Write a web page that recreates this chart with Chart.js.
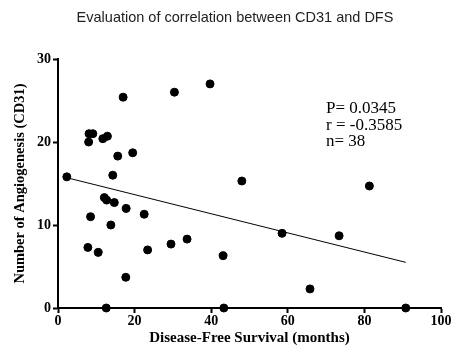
<!DOCTYPE html>
<html>
<head>
<meta charset="utf-8">
<script src="https://cdn.jsdelivr.net/npm/chart.js@4/dist/chart.umd.min.js"></script>
<style>
	body { margin: 0; background: #fff; }
	canvas { display: block; }
</style>
</head>
<body>
<canvas id="chart" width="454" height="346"></canvas>
<script>
// survival (months) vs CD31 count
var dfsMonths = [2.3, 8.1, 9.1, 8.0, 11.7, 12.9, 15.6, 19.5, 14.3, 17.0,
	12.1, 12.7, 14.7, 17.8, 22.5, 8.5, 13.8, 7.8, 10.5, 23.4,
	17.7, 12.6, 30.4, 39.7, 48.0, 58.5, 29.5, 33.7, 43.1, 43.3,
	81.3, 73.4, 65.8, 90.8];
var cd31Counts = [15.8, 21.0, 21.0, 20.0, 20.4, 20.7, 18.3, 18.7, 16.0, 25.4,
	13.3, 13.0, 12.7, 12.0, 11.3, 11.0, 10.0, 7.3, 6.7, 7.0,
	3.7, 0, 26.0, 27.0, 15.3, 9.0, 7.7, 8.3, 6.3, 0,
	14.7, 8.7, 2.3, 0];

// fitted line end points
var fitX = [2.3, 90.8];
var fitY = [15.7, 5.5];

var xTicks = [0, 20, 40, 60, 80, 100];
var yTicks = [0, 10, 20, 30];

var statsLines = ['P= 0.0345', 'r = -0.3585', 'n= 38'];
var chartTitle = 'Evaluation of correlation between CD31 and DFS';

var serif = '"Liberation Serif", "Times New Roman", serif';

var points = dfsMonths.map(function (x, i) {
	return { x: x, y: cd31Counts[i] };
});
var fitLine = fitX.map(function (x, i) {
	return { x: x, y: fitY[i] };
});

var textPlugin = {
	id: 'texts',
	afterDraw: function (chart) {
		var ctx = chart.ctx;
		ctx.save();
		ctx.fillStyle = '#222';
		ctx.font = '14.5px "Liberation Sans", Arial, sans-serif';
		ctx.textAlign = 'center';
		ctx.textBaseline = 'alphabetic';
		ctx.fillText(chartTitle, 235, 22);

		ctx.fillStyle = '#000';
		ctx.font = '17px ' + serif;
		ctx.textAlign = 'left';
		for (var i = 0; i < statsLines.length; i++) {
			ctx.fillText(statsLines[i], 326, 113 + i * 16.5);
		}
		ctx.restore();
	}
};

new Chart(document.getElementById('chart'), {
	type: 'scatter',
	data: {
		datasets: [{
			data: points,
			backgroundColor: '#000',
			borderColor: '#000',
			pointRadius: 4,
			pointHoverRadius: 4,
			clip: false
		}, {
			type: 'line',
			data: fitLine,
			borderColor: '#000',
			borderWidth: 1,
			pointRadius: 0,
			fill: false
		}]
	},
	options: {
		responsive: false,
		animation: false,
		layout: { padding: { top: 59, right: 13, left: 0, bottom: 0 } },
		plugins: {
			legend: { display: false },
			tooltip: { enabled: false }
		},
		scales: {
			x: {
				type: 'linear',
				min: 0,
				max: 100,
				afterBuildTicks: function (axis) {
					axis.ticks = xTicks.map(function (v) { return { value: v }; });
				},
				afterFit: function (axis) { axis.height = 38; },
				border: { color: '#000', width: 2 },
				grid: { drawOnChartArea: false, color: '#000', tickLength: 5, tickWidth: 2 },
				ticks: { color: '#000', font: { family: serif, size: 14, weight: 'bold' }, padding: 0, maxRotation: 0 },
				title: {
					display: true,
					text: 'Disease-Free Survival (months)',
					color: '#000',
					font: { family: serif, size: 15, weight: 'bold' },
					padding: { top: 0, bottom: -1 }
				}
			},
			y: {
				min: 0,
				max: 30,
				afterBuildTicks: function (axis) {
					axis.ticks = yTicks.map(function (v) { return { value: v }; });
				},
				afterFit: function (axis) { axis.width = 58; },
				border: { color: '#000', width: 2 },
				grid: { drawOnChartArea: false, color: '#000', tickLength: 5, tickWidth: 2 },
				ticks: { color: '#000', font: { family: serif, size: 14, weight: 'bold' }, padding: 2 },
				title: {
					display: true,
					text: 'Number of Angiogenesis (CD31)',
					color: '#000',
					font: { family: serif, size: 14.5, weight: 'bold' },
					padding: { top: 12, bottom: 0 }
				}
			}
		}
	},
	plugins: [textPlugin]
});
</script>
</body>
</html>
